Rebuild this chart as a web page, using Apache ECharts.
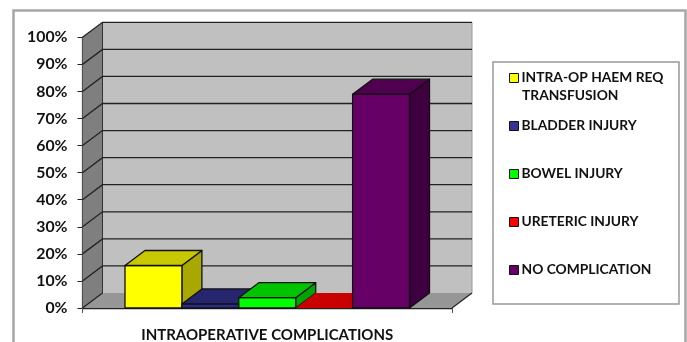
<!DOCTYPE html>
<html>
<head>
<meta charset="utf-8">
<style>html,body{margin:0;padding:0;background:#fff}#chart{width:687px;height:342px}</style>
<script src="https://cdn.jsdelivr.net/npm/echarts@6/dist/echarts.min.js"></script>
</head>
<body>
<div id="chart"></div>
<script>
const categories = ['INTRAOPERATIVE COMPLICATIONS'];
const seriesNames = ['INTRA-OP HAEM REQ TRANSFUSION', 'BLADDER INJURY', 'BOWEL INJURY', 'URETERIC INJURY', 'NO COMPLICATION'];
const seriesValues = [15.7, 1.5, 3.8, 0, 79];
const tickValues = [0, 10, 20, 30, 40, 50, 60, 70, 80, 90, 100];
const frontColors = ['#ffff00', '#2b2b8c', '#00ff00', '#ff0000', '#660066'];
const legendColors = ['#ffff00', '#333399', '#00ff00', '#ff0000', '#660066'];
const topColors = ['#c8c800', '#26266f', '#00c400', '#c80000', '#4f004f'];
const sideColors = ['#a8a800', '#1e1e5c', '#00a400', '#a00000', '#3e003e'];

// Oblique projection offset of the chart's depth axis, in pixels.
const DX = 20, DY = -15;
const EDGE = { stroke: '#111', lineWidth: 1.3, lineJoin: 'round' };
const poly = (points, fill, stroke) => ({
  type: 'polygon',
  shape: { points },
  style: stroke ? Object.assign({ fill }, stroke) : { fill }
});
const shift = (p) => [p[0] + DX, p[1] + DY];

// Left wall, floor, back wall and the gridlines folded over the two walls.
function renderWalls(params, api) {
  const x0 = params.coordSys.x;
  const x1 = x0 + params.coordSys.width;
  const bottom = api.coord([0, 0])[1];
  const top = api.coord([0, 100])[1];
  const children = [
    poly([[x0 + DX, bottom + DY], [x1 + DX, bottom + DY], [x1 + DX, top + DY], [x0 + DX, top + DY]], '#c0c0c0'),
    poly([[x0, bottom], [x0 + DX, bottom + DY], [x0 + DX, top + DY], [x0, top]], '#7f7f7f'),
    poly([[x0, bottom], [x1, bottom], [x1 + DX, bottom + DY], [x0 + DX, bottom + DY]], '#969696'),
    { type: 'line', shape: { x1: x1 + DX, y1: top + DY, x2: x1 + DX, y2: bottom + DY }, style: { stroke: '#9a9a9a', lineWidth: 1 } },
    { type: 'line', shape: { x1: x1, y1: bottom, x2: x1 + DX, y2: bottom + DY }, style: { stroke: '#222', lineWidth: 1.2 } },
    { type: 'line', shape: { x1: x0 + DX, y1: top + DY, x2: x0 + DX, y2: bottom + DY }, style: { stroke: '#333', lineWidth: 1 } }
  ];
  tickValues.forEach((v) => {
    const y = api.coord([0, v])[1];
    children.push({
      type: 'polyline',
      shape: { points: v === 0 ? [[x0, y], [x0 + DX, y + DY]] : [[x0, y], [x0 + DX, y + DY], [x1 + DX, y + DY]] },
      style: { stroke: '#222', lineWidth: 1.3, fill: 'none' }
    });
  });
  return { type: 'group', children };
}

// One extruded bar: front, top and side faces from the value on the y axis.
function barRenderer(index) {
  return function (params, api) {
    const band = api.size([1, 0])[0];
    const width = band * 0.77 / seriesValues.length;
    const base = api.coord([api.value(0), 0]);
    const tip = api.coord([api.value(0), api.value(1)]);
    const left = base[0] + (index - seriesValues.length / 2) * width;
    const right = left + width;
    const fl = [left, tip[1]], fr = [right, tip[1]];
    const bl = [left, base[1]], br = [right, base[1]];
    const children = [];
    if (api.value(1) > 0) {
      children.push(poly([fr, shift(fr), shift(br), br], sideColors[index], EDGE));
      children.push(poly([fl, fr, br, bl], frontColors[index], EDGE));
      children.push(poly([fl, fr, shift(fr), shift(fl)], topColors[index], EDGE));
    } else {
      children.push(poly([fl, fr, shift(fr), shift(fl)], topColors[index]));
    }
    return { type: 'group', children };
  };
}

const labelFont = { fontFamily: 'Lato', fontWeight: 'bold', color: '#111' };
const legendTops = [71, 119, 167, 215, 263];

const chart = echarts.init(document.getElementById('chart'), null, { renderer: 'canvas' });
chart.setOption({
  animation: false,
  backgroundColor: '#fff',
  grid: { left: 82.5, right: 235, top: 37.3, bottom: 34, outerBoundsMode: 'none' },
  xAxis: {
    type: 'category',
    data: categories,
    axisLine: { lineStyle: { color: '#222', width: 1.3 } },
    axisTick: { show: true, length: 5, lineStyle: { color: '#555' } },
    axisLabel: Object.assign({ fontSize: 15, margin: 20 }, labelFont)
  },
  yAxis: {
    type: 'value',
    min: 0,
    max: 100,
    interval: 10,
    splitLine: { show: false },
    axisLine: { show: true, lineStyle: { color: '#222', width: 1.2 } },
    axisTick: { show: true, length: 5, lineStyle: { color: '#222' } },
    axisLabel: Object.assign({ fontSize: 15.8, margin: 15, padding: [1, 0, 0, 0], formatter: '{value}%' }, labelFont)
  },
  legend: seriesNames.map((name, i) => ({
    data: [name],
    left: 509,
    top: legendTops[i],
    orient: 'vertical',
    icon: 'rect',
    itemWidth: 9,
    itemHeight: 9,
    selectedMode: false,
    padding: 0,
    itemStyle: { borderColor: '#111', borderWidth: 1 },
    formatter: i === 0 ? 'INTRA-OP HAEM REQ' : name,
    textStyle: Object.assign({ fontSize: 13.8, padding: [0, 0, 0, -2] }, labelFont),
    z: 6
  })),
  graphic: [
    { type: 'rect', z: -10, silent: true, shape: { x: 13.5, y: 10.5, width: 672, height: 400 }, style: { fill: '#fff', stroke: '#a6a6a6', lineWidth: 2.5 } },
    { type: 'rect', z: 1, silent: true, shape: { x: 493, y: 62, width: 186, height: 242 }, style: { fill: '#fff', stroke: '#999', lineWidth: 1.5 } },
    { type: 'text', z: 6, silent: true, left: 522, top: 89, style: { text: 'TRANSFUSION', fill: '#111', font: 'bold 13.8px Lato' } }
  ],
  series: [
    { type: 'custom', name: 'walls', coordinateSystem: 'cartesian2d', z: 1, silent: true, renderItem: renderWalls, data: [[categories[0], 0]] }
  ].concat(seriesNames.map((name, i) => ({
    type: 'custom',
    name,
    coordinateSystem: 'cartesian2d',
    z: 2 + i,
    itemStyle: { color: legendColors[i] },
    encode: { x: 0, y: 1 },
    renderItem: barRenderer(i),
    data: [[categories[0], seriesValues[i]]]
  })))
});
</script>
</body>
</html>
